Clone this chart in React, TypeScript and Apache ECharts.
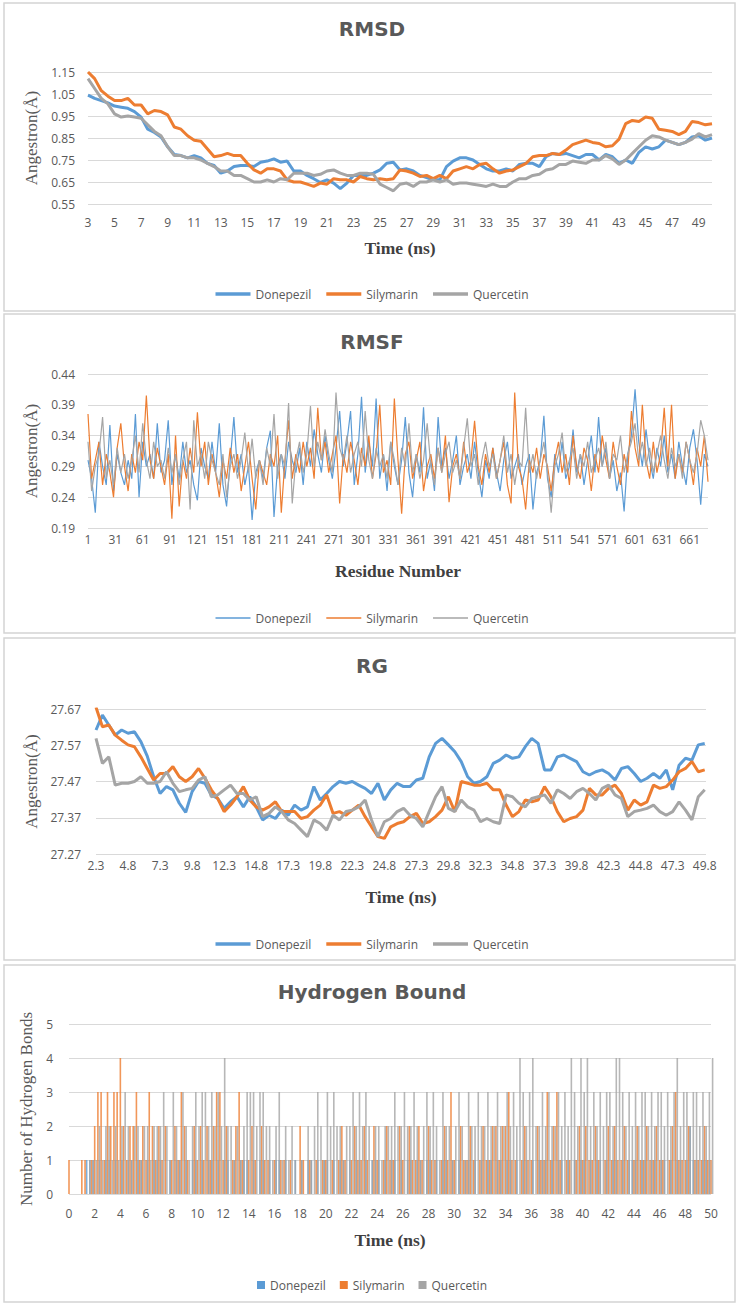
import React, { useEffect, useRef } from "react";
import * as echarts from "echarts";

const SERIES_NAMES = ["Donepezil", "Silymarin", "Quercetin"];
const COLORS = ["#5B9BD5", "#ED7D31", "#A5A5A5"];

// ---------- RMSD (time 3..50 ns, every 0.5 ns) ----------
const RMSD_T0 = 3;
const RMSD_DT = 0.5;
const RMSD_DONEPEZIL = [
  1.045, 1.03, 1.02, 1.01, 0.995, 0.99, 0.985, 0.97, 0.945, 0.89,
  0.875, 0.855, 0.81, 0.775, 0.77, 0.76, 0.77, 0.76, 0.735, 0.725,
  0.69, 0.7, 0.72, 0.725, 0.725, 0.72, 0.74, 0.745, 0.755, 0.74,
  0.745, 0.7, 0.7, 0.68, 0.665, 0.648, 0.66, 0.645, 0.62, 0.645,
  0.68, 0.68, 0.68, 0.69, 0.705, 0.735, 0.74, 0.705, 0.71, 0.7,
  0.68, 0.67, 0.66, 0.66, 0.72, 0.745, 0.76, 0.76, 0.75, 0.73,
  0.71, 0.7, 0.7, 0.71, 0.7, 0.73, 0.735, 0.735, 0.72, 0.765,
  0.78, 0.775, 0.78, 0.77, 0.76, 0.775, 0.775, 0.75, 0.775, 0.765,
  0.735, 0.75, 0.735, 0.785, 0.81, 0.8, 0.81, 0.84, 0.83, 0.82,
  0.83, 0.855, 0.86, 0.84, 0.85,
];
const RMSD_SILYMARIN = [
  1.15, 1.12, 1.065, 1.04, 1.02, 1.02, 1.03, 1.0, 1.0, 0.96,
  0.975, 0.97, 0.955, 0.9, 0.89, 0.86, 0.84, 0.835, 0.8, 0.765,
  0.77, 0.78, 0.77, 0.77, 0.735, 0.705, 0.69, 0.71, 0.71, 0.7,
  0.66, 0.65, 0.65, 0.64, 0.63, 0.645, 0.64, 0.665, 0.66, 0.66,
  0.65, 0.675, 0.665, 0.66, 0.665, 0.66, 0.665, 0.705, 0.7, 0.69,
  0.675, 0.68, 0.665, 0.68, 0.665, 0.7, 0.71, 0.72, 0.71, 0.73,
  0.735, 0.71, 0.69, 0.7, 0.705, 0.72, 0.735, 0.765, 0.77, 0.77,
  0.78, 0.775, 0.795, 0.82, 0.83, 0.84, 0.83, 0.825, 0.81, 0.815,
  0.845, 0.915, 0.93, 0.925, 0.945, 0.94, 0.89, 0.885, 0.88, 0.865,
  0.88, 0.925, 0.92, 0.91, 0.915,
];
const RMSD_QUERCETIN = [
  1.12, 1.075, 1.03, 1.005, 0.96, 0.945, 0.95, 0.945, 0.94, 0.91,
  0.88, 0.86, 0.81, 0.77, 0.77, 0.76, 0.76, 0.75, 0.735, 0.72,
  0.7, 0.7, 0.68, 0.68, 0.665, 0.65, 0.65, 0.66, 0.65, 0.665,
  0.66, 0.69, 0.69, 0.69, 0.68, 0.685, 0.7, 0.705, 0.69, 0.68,
  0.68, 0.69, 0.69, 0.685, 0.64, 0.625, 0.61, 0.64, 0.645, 0.63,
  0.65, 0.65, 0.66, 0.65, 0.66, 0.64, 0.645, 0.645, 0.64, 0.635,
  0.63, 0.64, 0.63, 0.63, 0.65, 0.665, 0.665, 0.68, 0.685, 0.705,
  0.71, 0.73, 0.73, 0.745, 0.74, 0.735, 0.75, 0.75, 0.77, 0.755,
  0.73, 0.75, 0.78, 0.81, 0.84, 0.86, 0.855, 0.84, 0.83, 0.82,
  0.83, 0.845, 0.87, 0.855, 0.865,
];

// ---------- RMSF (residue 1..681, every 4 residues) ----------
const RMSF_R0 = 1;
const RMSF_DR = 4;
const RMSF_DONEPEZIL = [
  0.3, 0.27, 0.215, 0.33, 0.29, 0.26, 0.357, 0.25, 0.31, 0.28,
  0.26, 0.3, 0.27, 0.375, 0.24, 0.33, 0.29, 0.31, 0.27, 0.36,
  0.28, 0.3, 0.365, 0.26, 0.31, 0.27, 0.33, 0.28, 0.3, 0.26,
  0.235, 0.32, 0.29, 0.27, 0.33, 0.28, 0.36, 0.26, 0.225, 0.3,
  0.37, 0.28, 0.31, 0.26, 0.29, 0.203, 0.28, 0.3, 0.27, 0.32,
  0.348, 0.208, 0.29, 0.31, 0.27, 0.33, 0.3, 0.28, 0.32, 0.26,
  0.33, 0.29, 0.35, 0.31, 0.28, 0.34, 0.3, 0.27, 0.32, 0.38,
  0.29, 0.33, 0.38, 0.26, 0.31, 0.403, 0.28, 0.33, 0.29, 0.4,
  0.27, 0.31, 0.25, 0.33, 0.29, 0.26, 0.3, 0.37, 0.28, 0.24,
  0.31, 0.28, 0.386, 0.27, 0.3, 0.25, 0.37, 0.29, 0.32, 0.27,
  0.3, 0.34, 0.26, 0.29, 0.31, 0.27, 0.33, 0.28, 0.24, 0.3,
  0.27, 0.32, 0.28, 0.25, 0.3, 0.33, 0.27, 0.29, 0.31, 0.26,
  0.29, 0.31, 0.22, 0.28, 0.3, 0.372, 0.27, 0.24, 0.31, 0.28,
  0.33, 0.27, 0.29, 0.35, 0.28, 0.31, 0.26, 0.3, 0.34, 0.28,
  0.37, 0.29, 0.32, 0.27, 0.3, 0.25, 0.28, 0.217, 0.31, 0.34,
  0.415, 0.33, 0.29, 0.35, 0.3, 0.27, 0.32, 0.29, 0.34, 0.28,
  0.31, 0.27, 0.33, 0.29, 0.26, 0.32, 0.35, 0.3, 0.228, 0.31,
  0.29,
];
const RMSF_SILYMARIN = [
  0.375, 0.27, 0.3, 0.33, 0.26, 0.31, 0.28, 0.24, 0.32, 0.36,
  0.29, 0.25, 0.31, 0.28, 0.33, 0.3, 0.405, 0.3, 0.27, 0.32,
  0.29, 0.26, 0.31, 0.205, 0.34, 0.225, 0.3, 0.27, 0.32, 0.28,
  0.378, 0.29, 0.33, 0.26, 0.31, 0.28, 0.24, 0.3, 0.27, 0.32,
  0.28, 0.31, 0.25, 0.29, 0.33, 0.27, 0.22, 0.3, 0.28, 0.26,
  0.31, 0.29, 0.34, 0.215, 0.3, 0.365, 0.27, 0.31, 0.28, 0.33,
  0.29, 0.32, 0.27, 0.385, 0.3, 0.33, 0.28, 0.31, 0.34, 0.23,
  0.31, 0.28, 0.33, 0.3, 0.26, 0.32, 0.29, 0.34, 0.27, 0.31,
  0.39, 0.28, 0.3, 0.26, 0.4, 0.3, 0.213, 0.31, 0.33, 0.27,
  0.3, 0.33, 0.25, 0.29, 0.31, 0.27, 0.32, 0.28, 0.34, 0.232,
  0.29, 0.31, 0.27, 0.33, 0.28, 0.3, 0.364, 0.29, 0.26, 0.31,
  0.28, 0.32, 0.27, 0.3, 0.33, 0.26, 0.23, 0.41, 0.29, 0.27,
  0.22, 0.3, 0.28, 0.32, 0.27, 0.31, 0.29, 0.25, 0.3, 0.33,
  0.28, 0.31, 0.26, 0.34, 0.29, 0.27, 0.32, 0.3, 0.25, 0.31,
  0.28, 0.34, 0.3, 0.27, 0.33, 0.29, 0.26, 0.31, 0.28, 0.38,
  0.32, 0.29, 0.39, 0.3, 0.27, 0.33, 0.28, 0.31, 0.385, 0.29,
  0.39, 0.27, 0.31, 0.28, 0.33, 0.3, 0.26, 0.32, 0.29, 0.34,
  0.265,
];
const RMSF_QUERCETIN = [
  0.33, 0.25, 0.29, 0.31, 0.37, 0.27, 0.3, 0.26, 0.32, 0.28,
  0.31, 0.27, 0.3, 0.34, 0.28, 0.36, 0.3, 0.27, 0.33, 0.29,
  0.3, 0.27, 0.32, 0.28, 0.31, 0.26, 0.3, 0.33, 0.22, 0.365,
  0.29, 0.31, 0.27, 0.33, 0.3, 0.28, 0.26, 0.31, 0.24, 0.29,
  0.31, 0.27, 0.3, 0.345, 0.28, 0.335, 0.27, 0.3, 0.26, 0.32,
  0.29, 0.375, 0.27, 0.31, 0.29, 0.393, 0.23, 0.3, 0.33, 0.28,
  0.31, 0.388, 0.29, 0.33, 0.3, 0.35, 0.31, 0.28, 0.41, 0.32,
  0.3, 0.34, 0.28, 0.31, 0.33, 0.29, 0.38, 0.3, 0.27, 0.32,
  0.29, 0.31, 0.27, 0.33, 0.3, 0.26, 0.32, 0.29, 0.36, 0.28,
  0.31, 0.27, 0.3, 0.36, 0.29, 0.26, 0.32, 0.28, 0.31, 0.33,
  0.28, 0.3, 0.27, 0.32, 0.368, 0.29, 0.31, 0.26, 0.3, 0.33,
  0.29, 0.31, 0.27, 0.3, 0.34, 0.28, 0.31, 0.26, 0.3, 0.29,
  0.385, 0.28, 0.31, 0.27, 0.3, 0.33, 0.28, 0.215, 0.29, 0.31,
  0.345, 0.28, 0.3, 0.32, 0.27, 0.31, 0.29, 0.33, 0.28, 0.3,
  0.32, 0.29, 0.33, 0.27, 0.31, 0.3, 0.34, 0.28, 0.31, 0.33,
  0.36, 0.3, 0.33, 0.29, 0.32, 0.28, 0.31, 0.34, 0.3, 0.27,
  0.32, 0.29, 0.31, 0.27, 0.33, 0.3, 0.28, 0.31, 0.365, 0.34,
  0.3,
];

// ---------- RG (time 2.3..49.8 ns, every 0.5 ns) ----------
const RG_T0 = 2.3;
const RG_DT = 0.5;
const RG_DONEPEZIL = [
  27.612, 27.653, 27.626, 27.598, 27.612, 27.603, 27.607, 27.58, 27.54, 27.483,
  27.437, 27.456, 27.447, 27.41, 27.385, 27.442, 27.47, 27.465, 27.433, 27.423,
  27.396, 27.414, 27.428, 27.4, 27.428, 27.4, 27.364, 27.377, 27.368, 27.391,
  27.377, 27.405, 27.391, 27.4, 27.456, 27.419, 27.437, 27.456, 27.47, 27.465,
  27.47, 27.46, 27.451, 27.437, 27.465, 27.419, 27.447, 27.465, 27.456, 27.456,
  27.474, 27.479, 27.538, 27.575, 27.589, 27.571, 27.552, 27.525, 27.483, 27.465,
  27.47, 27.483, 27.52, 27.529, 27.543, 27.534, 27.538, 27.566, 27.589, 27.575,
  27.502, 27.502, 27.538, 27.543, 27.534, 27.525, 27.497, 27.488, 27.497, 27.502,
  27.492, 27.474, 27.506, 27.511, 27.492, 27.47, 27.479, 27.492, 27.479, 27.502,
  27.447, 27.515, 27.534, 27.529, 27.571, 27.575,
];
const RG_SILYMARIN = [
  27.675, 27.621, 27.626, 27.598, 27.584, 27.571, 27.566, 27.538, 27.506, 27.474,
  27.492, 27.492, 27.511, 27.483, 27.47, 27.483, 27.506, 27.479, 27.447, 27.423,
  27.387, 27.405, 27.428, 27.456, 27.419, 27.4, 27.391, 27.4, 27.414, 27.387,
  27.387, 27.387, 27.368, 27.373, 27.391, 27.405, 27.433, 27.382, 27.387, 27.377,
  27.391, 27.405, 27.373, 27.345, 27.318, 27.313, 27.345, 27.354, 27.359, 27.373,
  27.382, 27.354, 27.359, 27.373, 27.391, 27.428, 27.387, 27.47, 27.465, 27.46,
  27.46, 27.465, 27.447, 27.447, 27.405, 27.373, 27.387, 27.419, 27.414, 27.419,
  27.456, 27.428, 27.387, 27.359, 27.368, 27.373, 27.391, 27.451, 27.433, 27.433,
  27.451, 27.46, 27.437, 27.391, 27.419, 27.405, 27.414, 27.46, 27.451, 27.456,
  27.474, 27.497, 27.506, 27.525, 27.497, 27.502,
];
const RG_QUERCETIN = [
  27.589, 27.52, 27.538, 27.46, 27.465, 27.465, 27.47, 27.483, 27.465, 27.465,
  27.47, 27.497, 27.465, 27.442, 27.447, 27.451, 27.474, 27.483, 27.428, 27.433,
  27.447, 27.46, 27.437, 27.437, 27.419, 27.428, 27.373, 27.382, 27.4, 27.387,
  27.364, 27.354, 27.336, 27.318, 27.364, 27.354, 27.336, 27.377, 27.364, 27.387,
  27.391, 27.4, 27.419, 27.364, 27.318, 27.359, 27.368, 27.387, 27.396, 27.377,
  27.368, 27.345, 27.387, 27.428, 27.456, 27.396, 27.387, 27.419, 27.4, 27.391,
  27.359, 27.368, 27.359, 27.354, 27.433, 27.428, 27.41, 27.4, 27.423, 27.428,
  27.433, 27.41, 27.447, 27.437, 27.423, 27.442, 27.451, 27.437, 27.419, 27.451,
  27.46, 27.433, 27.423, 27.373, 27.387, 27.391, 27.396, 27.405, 27.387, 27.377,
  27.387, 27.414, 27.391, 27.364, 27.428, 27.447,
];

// ---------- Hydrogen bonds (time 0..50 ns, every 0.25 ns) ----------
const HB_T0 = 0;
const HB_DT = 0.25;
const HB_DONEPEZIL = [
  0, 0, 0, 0, 0, 0, 1, 1, 1, 0, 1, 0, 1, 1, 0, 1, 0, 1, 0, 1,
  1, 0, 1, 1, 0, 1, 0, 1, 1, 1, 0, 0, 1, 0, 1, 1, 0, 1, 0, 1,
  1, 0, 1, 0, 1, 1, 0, 1, 0, 1, 1, 0, 1, 0, 1, 1, 1, 0, 1, 0,
  1, 1, 0, 1, 0, 1, 1, 0, 1, 0, 0, 1, 0, 1, 0, 1, 1, 0, 1, 0,
  1, 1, 0, 1, 0, 1, 1, 0, 1, 0, 1, 1, 0, 1, 0, 1, 1, 1, 0, 1,
  0, 1, 1, 0, 1, 0, 1, 1, 0, 1, 1, 0, 1, 1, 0, 1, 0, 1, 1, 0,
  1, 0, 1, 0, 1, 1, 0, 1, 0, 1, 0, 1, 1, 0, 1, 1, 0, 1, 1, 0,
  1, 0, 1, 1, 0, 1, 0, 1, 1, 1, 0, 1, 0, 1, 1, 0, 1, 0, 1, 0,
  1, 1, 0, 1, 0, 1, 1, 0, 1, 0, 1, 1, 0, 1, 0, 1, 1, 1, 0, 1,
  1, 0, 1, 1, 0, 1, 1, 0, 1, 0, 1, 1, 0, 1, 2, 1, 1, 0, 1, 1,
  1,
];
const HB_SILYMARIN = [
  1, 0, 0, 0, 1, 1, 0, 1, 2, 3, 3, 1, 3, 2, 3, 3, 4, 2, 1, 2,
  2, 3, 1, 2, 1, 3, 2, 1, 2, 1, 2, 0, 1, 2, 1, 3, 2, 1, 0, 2,
  1, 2, 1, 2, 1, 2, 3, 3, 1, 2, 0, 1, 2, 3, 1, 0, 1, 2, 1, 0,
  2, 1, 1, 0, 1, 0, 1, 1, 0, 1, 0, 0, 2, 1, 0, 1, 0, 1, 0, 1,
  1, 0, 1, 0, 1, 2, 1, 0, 1, 2, 1, 1, 2, 1, 0, 2, 1, 0, 1, 2,
  1, 1, 0, 2, 1, 0, 2, 1, 1, 2, 1, 0, 2, 1, 1, 0, 1, 2, 1, 3,
  1, 0, 2, 1, 1, 2, 1, 0, 1, 2, 1, 1, 2, 2, 1, 2, 2, 3, 1, 1,
  0, 1, 2, 1, 1, 0, 2, 1, 1, 3, 1, 2, 3, 1, 0, 1, 1, 0, 1, 2,
  1, 2, 1, 1, 2, 1, 0, 1, 2, 1, 2, 1, 1, 2, 1, 0, 1, 2, 1, 1,
  2, 1, 1, 2, 1, 1, 0, 1, 2, 3, 1, 1, 1, 2, 0, 1, 1, 1, 2, 1,
  1,
];
const HB_QUERCETIN = [
  0, 0, 0, 0, 0, 0, 1, 1, 1, 2, 1, 2, 2, 1, 2, 1, 2, 3, 2, 1,
  2, 2, 1, 2, 2, 1, 2, 2, 2, 3, 2, 1, 3, 2, 1, 3, 2, 1, 2, 3,
  2, 3, 3, 2, 3, 2, 3, 2, 4, 2, 2, 1, 2, 1, 2, 3, 3, 3, 2, 3,
  3, 2, 2, 1, 2, 3, 1, 2, 1, 2, 1, 0, 1, 0, 2, 1, 2, 3, 2, 1,
  3, 2, 3, 2, 2, 1, 2, 2, 3, 2, 3, 2, 3, 2, 1, 2, 2, 1, 2, 2,
  2, 3, 2, 2, 3, 2, 2, 3, 2, 1, 2, 3, 2, 3, 2, 1, 3, 2, 2, 1,
  2, 3, 2, 1, 3, 2, 2, 3, 2, 2, 3, 2, 2, 3, 2, 2, 3, 2, 3, 2,
  4, 3, 2, 3, 4, 2, 2, 3, 2, 3, 2, 2, 3, 2, 3, 2, 4, 3, 2, 4,
  3, 4, 2, 3, 2, 3, 2, 3, 3, 2, 4, 4, 3, 2, 3, 2, 3, 2, 3, 3,
  2, 3, 2, 3, 3, 2, 3, 2, 3, 4, 2, 3, 3, 2, 3, 3, 2, 3, 2, 3,
  4,
];

// ---------- axis ranges and tick steps ----------
const RMSD_Y_MIN = 0.55;
const RMSD_Y_MAX = 1.15;
const RMSD_Y_STEP = 0.1;
const RMSD_X_MIN = 3;
const RMSD_X_MAX = 50;
const RMSD_X_STEP = 2;

const RMSF_Y_MIN = 0.19;
const RMSF_Y_MAX = 0.44;
const RMSF_Y_STEP = 0.05;
const RMSF_X_MIN = 1;
const RMSF_X_MAX = 681;
const RMSF_X_STEP = 30;

const RG_Y_MIN = 27.27;
const RG_Y_MAX = 27.67;
const RG_Y_STEP = 0.1;
const RG_X_MIN = 2.3;
const RG_X_MAX = 49.9;
const RG_X_STEP = 2.5;

const HB_Y_MIN = 0;
const HB_Y_MAX = 5;
const HB_Y_STEP = 1;
const HB_X_MIN = 0;
const HB_X_MAX = 50;
const HB_X_STEP = 2;

// Axis coordinates are measured from each axis minimum so that ticks start at the minimum.
function toPoints(start: number, step: number, values: number[], xBase: number, yBase: number) {
  return values.map((v, i) => [start + i * step - xBase, v - yBase]);
}

const LABEL_FONT = "'Open Sans', 'Noto Sans', sans-serif";
const SERIF = "'Liberation Serif', 'DejaVu Serif', serif";

function fmt(base: number, digits: number) {
  return (v: number) => (v + base).toFixed(digits);
}

export default function App() {
  const ref = useRef<HTMLDivElement>(null);

  useEffect(() => {
    if (!ref.current) return;
    const chart = echarts.init(ref.current, null, { renderer: "svg" });

    const axisLabel = { color: "#595959", fontSize: 12, fontFamily: LABEL_FONT };
    const yName = { color: "#595959", fontSize: 17, fontFamily: SERIF };
    const xName = { color: "#404040", fontSize: 17.5, fontWeight: "bold" as const, fontFamily: SERIF };
    const split = { show: true, lineStyle: { color: "#D9D9D9", width: 1 } };

    const grids = [
      { left: 88, top: 72, width: 624, height: 132 },
      { left: 88, top: 374, width: 620, height: 154 },
      { left: 96, top: 709, width: 610, height: 145 },
      { left: 69, top: 1024, width: 642, height: 170 },
    ];

    const xAxisBase = (gridIndex: number, min: number, max: number, step: number, digits: number, margin: number, name: string, nameGap: number, showMax: boolean) => ({
      type: "value",
      gridIndex,
      min: 0,
      max: +(max - min).toFixed(6),
      interval: step,
      axisLine: { show: false },
      axisTick: { show: false },
      splitLine: { show: false },
      axisLabel: { ...axisLabel, margin, showMaxLabel: showMax, showMinLabel: true, formatter: fmt(min, digits) },
      name,
      nameLocation: "middle",
      nameGap,
      nameTextStyle: xName,
    });

    const yAxisBase = (gridIndex: number, min: number, max: number, step: number, digits: number, margin: number, name: string, nameGap: number) => ({
      type: "value",
      gridIndex,
      min: 0,
      max: +(max - min).toFixed(6),
      interval: step,
      axisLine: { show: false },
      axisTick: { show: false },
      splitLine: split,
      axisLabel: { ...axisLabel, margin, formatter: fmt(min, digits) },
      name,
      nameLocation: "middle",
      nameGap,
      nameTextStyle: yName,
    });

    const lineSeries = (idx: number, data: number[][], width: number, axis: number) => ({
      type: "line",
      name: SERIES_NAMES[idx],
      xAxisIndex: axis,
      yAxisIndex: axis,
      data,
      symbol: "none",
      showSymbol: false,
      lineStyle: { color: COLORS[idx], width },
      itemStyle: { color: COLORS[idx] },
      emphasis: { disabled: true },
    });

    const barSeries = (idx: number, data: number[][]) => ({
      type: "bar",
      name: SERIES_NAMES[idx],
      xAxisIndex: 3,
      yAxisIndex: 3,
      data,
      barWidth: 1.6,
      barGap: "0%",
      itemStyle: { color: COLORS[idx], opacity: 0.8 },
      emphasis: { disabled: true },
    });

    const legend = (top: number, w: number, h: number, gap: number) => ({
      top,
      left: "center",
      itemWidth: w,
      itemHeight: h,
      itemGap: gap,
      selectedMode: false,
      textStyle: { color: "#595959", fontSize: 12, fontFamily: LABEL_FONT },
      data: SERIES_NAMES.map((n, i) => ({ name: n, icon: "rect", itemStyle: { color: COLORS[i], borderWidth: 0 } })),
    });

    const panel = (y: number, h: number) => ({
      type: "rect",
      shape: { x: 4, y, width: 731, height: h },
      style: { fill: "none", stroke: "#D4D4D4", lineWidth: 1.5 },
      silent: true,
    });
    const title = (text: string, y: number) => ({
      type: "text",
      x: 372,
      y,
      style: {
        text,
        align: "center",
        verticalAlign: "middle",
        fill: "#595959",
        fontSize: 20,
        fontWeight: "bold",
        fontFamily: "'DejaVu Sans', sans-serif",
      },
      silent: true,
    });

    const option = {
      animation: false,
      backgroundColor: "#ffffff",
      grid: grids,
      graphic: [
        panel(3, 308),
        panel(314, 319),
        panel(638, 322),
        panel(965, 337),
        title("RMSD", 29),
        title("RMSF", 342),
        title("RG", 666),
        title("Hydrogen Bound", 992),
      ],
      xAxis: [
        xAxisBase(0, RMSD_X_MIN, RMSD_X_MAX, RMSD_X_STEP, 0, 12, "Time (ns)", 35, false),
        xAxisBase(1, RMSF_X_MIN, RMSF_X_MAX, RMSF_X_STEP, 0, 5, "Residue Number", 34, false),
        xAxisBase(2, RG_X_MIN, RG_X_MAX, RG_X_STEP, 1, 5, "Time (ns)", 34, false),
        xAxisBase(3, HB_X_MIN, HB_X_MAX, HB_X_STEP, 0, 13, "Time (ns)", 37, true),
      ],
      yAxis: [
        yAxisBase(0, RMSD_Y_MIN, RMSD_Y_MAX, RMSD_Y_STEP, 2, 13, "Angestron(Å)", 44),
        yAxisBase(1, RMSF_Y_MIN, RMSF_Y_MAX, RMSF_Y_STEP, 2, 13, "Angestron(Å)", 44),
        yAxisBase(2, RG_Y_MIN, RG_Y_MAX, RG_Y_STEP, 2, 15, "Angestron(Å)", 52),
        yAxisBase(3, HB_Y_MIN, HB_Y_MAX, HB_Y_STEP, 0, 16, "Number of Hydrogen Bonds", 26),
      ],
      legend: [legend(283, 35, 3.5, 15), legend(607, 35, 1.5, 15), legend(933, 35, 3.5, 15), legend(1274, 8, 8, 14)],
      series: [
        lineSeries(0, toPoints(RMSD_T0, RMSD_DT, RMSD_DONEPEZIL, RMSD_X_MIN, RMSD_Y_MIN), 3, 0),
        lineSeries(1, toPoints(RMSD_T0, RMSD_DT, RMSD_SILYMARIN, RMSD_X_MIN, RMSD_Y_MIN), 3, 0),
        lineSeries(2, toPoints(RMSD_T0, RMSD_DT, RMSD_QUERCETIN, RMSD_X_MIN, RMSD_Y_MIN), 3, 0),
        lineSeries(0, toPoints(RMSF_R0, RMSF_DR, RMSF_DONEPEZIL, RMSF_X_MIN, RMSF_Y_MIN), 1.2, 1),
        lineSeries(1, toPoints(RMSF_R0, RMSF_DR, RMSF_SILYMARIN, RMSF_X_MIN, RMSF_Y_MIN), 1.2, 1),
        lineSeries(2, toPoints(RMSF_R0, RMSF_DR, RMSF_QUERCETIN, RMSF_X_MIN, RMSF_Y_MIN), 1.2, 1),
        lineSeries(0, toPoints(RG_T0, RG_DT, RG_DONEPEZIL, RG_X_MIN, RG_Y_MIN), 3, 2),
        lineSeries(1, toPoints(RG_T0, RG_DT, RG_SILYMARIN, RG_X_MIN, RG_Y_MIN), 3, 2),
        lineSeries(2, toPoints(RG_T0, RG_DT, RG_QUERCETIN, RG_X_MIN, RG_Y_MIN), 3, 2),
        barSeries(0, toPoints(HB_T0, HB_DT, HB_DONEPEZIL, HB_X_MIN, HB_Y_MIN)),
        barSeries(1, toPoints(HB_T0, HB_DT, HB_SILYMARIN, HB_X_MIN, HB_Y_MIN)),
        barSeries(2, toPoints(HB_T0, HB_DT, HB_QUERCETIN, HB_X_MIN, HB_Y_MIN)),
      ],
    };

    chart.setOption(option as any);
    return () => chart.dispose();
  }, []);

  return (
    <div
      ref={ref}
      style={{ position: "absolute", left: 0, top: 0, width: 744, height: 1305, background: "#fff" }}
    />
  );
}
